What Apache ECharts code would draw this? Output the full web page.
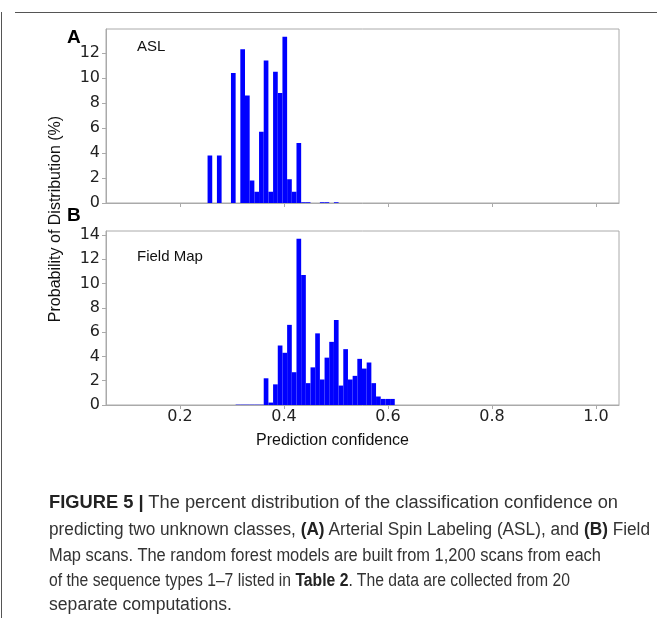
<!DOCTYPE html>
<html>
<head>
<meta charset="utf-8">
<script src="https://cdn.jsdelivr.net/npm/echarts@6/dist/echarts.min.js"></script>
<style>
  html, body { margin: 0; padding: 0; background: #fff; }
  #wrap { position: relative; width: 657px; height: 618px; overflow: hidden; }
  #chart { position: absolute; left: 0; top: 0; width: 657px; height: 618px; }
  .cap { position: absolute; left: 49px; white-space: nowrap; font-family: "Liberation Sans", Arial, sans-serif;
         font-size: 18px; color: #333; transform-origin: 0 50%; line-height: 20px; }
  .cap b { color: #222; }
</style>
</head>
<body>
<div id="wrap">
  <div id="chart"></div>
  <div class="cap" data-w="569" style="top:492px"><b>FIGURE 5 |</b> The percent distribution of the classification confidence on</div>
  <div class="cap" data-w="601" style="top:519px">predicting two unknown classes, <b>(A)</b> Arterial Spin Labeling (ASL), and <b>(B)</b> Field</div>
  <div class="cap" data-w="552" style="top:545px">Map scans. The random forest models are built from 1,200 scans from each</div>
  <div class="cap" data-w="521" style="top:570px">of the sequence types 1–7 listed in <b>Table 2</b>. The data are collected from 20</div>
  <div class="cap" data-w="183" style="top:594px">separate computations.</div>
</div>
<script>
// ---- data ----
const binWidth = 0.009;
const xTicks = [0.2, 0.4, 0.6, 0.8, 1.0];
const yTicksA = [0, 2, 4, 6, 8, 10, 12];
const yTicksB = [0, 2, 4, 6, 8, 10, 12, 14];

// (A) ASL: bin left edges and percentages
const aslEdges  = [0.253, 0.271, 0.298, 0.316, 0.325, 0.334, 0.343, 0.352, 0.361, 0.370, 0.379, 0.388, 0.397, 0.406, 0.415, 0.424, 0.433, 0.442, 0.469, 0.478, 0.496];
const aslValues = [3.8,   3.8,   10.4,  12.3,  8.6,   1.8,   0.9,   5.7,   11.4,  0.9,   10.5,  8.8,   13.3,  1.9,   0.9,   4.8,   0.06,  0.06,  0.06,  0.06,  0.06];

// (B) Field Map
const fmEdges  = [0.307, 0.316, 0.325, 0.334, 0.343, 0.352, 0.361, 0.370, 0.379, 0.388, 0.397, 0.406, 0.415, 0.424, 0.433, 0.442, 0.451, 0.460, 0.469, 0.478, 0.487, 0.496, 0.505, 0.514, 0.523, 0.532, 0.541, 0.550, 0.559, 0.568, 0.577, 0.586, 0.595, 0.604];
const fmValues = [0.03,  0.03,  0.03,  0.03,  0.03,  0.03,  2.2,   0.2,   1.7,   4.9,   4.3,   6.6,   2.7,   13.7,  10.7,  1.8,   3.1,   5.9,   2.1,   3.9,   5.2,   7.0,   1.6,   4.6,   2.1,   2.4,   3.8,   3.0,   3.5,   1.8,   0.7,   0.5,   0.5,   0.5];

const panelLabels = ['A', 'B'];
const panelTitles = ['ASL', 'Field Map'];
const xName = 'Prediction confidence';
const yName = 'Probability of Distribution (%)';

// ---- chart ----
const BLUE = '#0000ff';
const SPINE = '#aaaaaa';
const tickFont = { fontFamily: '"DejaVu Sans", sans-serif', fontSize: 16, color: '#222' };

function hist(edges, vals) { return edges.map((e, i) => [e, e + binWidth, vals[i]]); }

function renderBar(params, api) {
  const p0 = api.coord([api.value(0), api.value(2)]);
  const p1 = api.coord([api.value(1), 0]);
  return {
    type: 'rect',
    shape: { x: p0[0], y: p0[1], width: p1[0] - p0[0], height: p1[1] - p0[1] },
    style: { fill: BLUE }
  };
}

function xAxis(gridIndex, showLabels) {
  return {
    type: 'value', gridIndex, min: 0.05769, max: 1.04423,
    splitLine: { show: false },
    axisLine: { show: true, lineStyle: { color: SPINE } },
    axisTick: { show: true, length: 4, inside: false, customValues: xTicks, lineStyle: { color: SPINE } },
    axisLabel: { show: showLabels, customValues: xTicks, margin: 4, formatter: v => v.toFixed(1), ...tickFont }
  };
}
function yAxis(gridIndex, max, ticks) {
  return {
    type: 'value', gridIndex, min: 0, max,
    splitLine: { show: false },
    axisLine: { show: true, lineStyle: { color: SPINE } },
    axisTick: { show: true, length: 4, inside: false, customValues: ticks, lineStyle: { color: SPINE } },
    axisLabel: { show: true, customValues: ticks, margin: 6, ...tickFont }
  };
}

const chart = echarts.init(document.getElementById('chart'), null, { renderer: 'canvas' });
chart.setOption({
  animation: false,
  backgroundColor: '#fff',
  grid: [
    { left: 106, top: 29, width: 513, height: 174, show: true, borderColor: SPINE, borderWidth: 1, backgroundColor: 'transparent' },
    { left: 106, top: 231, width: 513, height: 174, show: true, borderColor: SPINE, borderWidth: 1, backgroundColor: 'transparent' }
  ],
  xAxis: [xAxis(0, false), xAxis(1, true)],
  yAxis: [yAxis(0, 13.92, yTicksA), yAxis(1, 14.33, yTicksB)],
  series: [
    { type: 'custom', xAxisIndex: 0, yAxisIndex: 0, renderItem: renderBar, data: hist(aslEdges, aslValues), encode: { x: [0, 1], y: 2 }, clip: true },
    { type: 'custom', xAxisIndex: 1, yAxisIndex: 1, renderItem: renderBar, data: hist(fmEdges, fmValues), encode: { x: [0, 1], y: 2 }, clip: true }
  ],
  graphic: [
    { type: 'line', shape: { x1: 15, y1: 12.5, x2: 657, y2: 12.5 }, style: { stroke: '#555', lineWidth: 1 } },
    { type: 'line', shape: { x1: 1.5, y1: 12, x2: 1.5, y2: 618 }, style: { stroke: '#555', lineWidth: 1 } },
    { type: 'text', left: 67, top: 28, style: { text: panelLabels[0], font: 'bold 19px "Liberation Sans"', fill: '#000' } },
    { type: 'text', left: 67, top: 206, style: { text: panelLabels[1], font: 'bold 19px "Liberation Sans"', fill: '#000' } },
    { type: 'text', left: 137, top: 39, style: { text: panelTitles[0], font: '15px "Liberation Sans"', fill: '#111' } },
    { type: 'text', left: 137, top: 249, style: { text: panelTitles[1], font: '15px "Liberation Sans"', fill: '#111' } },
    { type: 'text', x: 332.5, y: 441, style: { text: xName, font: '16px "Liberation Sans"', fill: '#111', align: 'center', verticalAlign: 'middle' } },
    { type: 'text', x: 56, y: 219, rotation: Math.PI / 2, style: { text: yName, font: '16px "Liberation Sans"', fill: '#111', align: 'center', verticalAlign: 'middle' } }
  ]
});

// fit each caption line to the width measured on the reference
document.querySelectorAll('.cap').forEach(el => {
  const r = (+el.dataset.w) / el.getBoundingClientRect().width;
  el.style.transform = 'scaleX(' + r + ')';
});
</script>
</body>
</html>
